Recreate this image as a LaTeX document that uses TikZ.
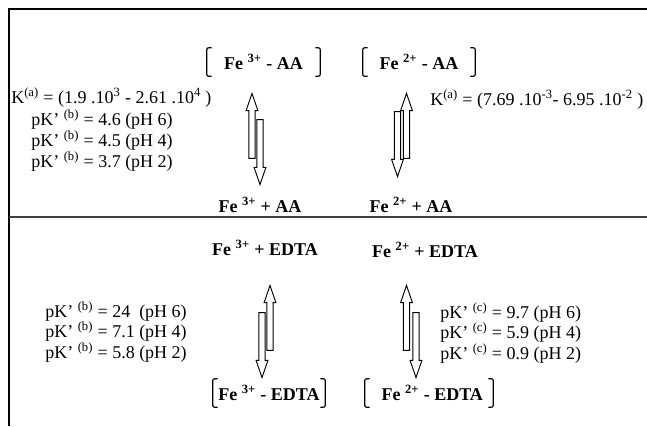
\documentclass[tikz,border=0pt]{standalone}
\usepackage{fontspec}
\setmainfont{Liberation Serif}
\usetikzlibrary{shapes.arrows}

\tikzset{
  species/.style={font=\fontsize{13.5}{16}\selectfont\bfseries, inner sep=0pt},
  complex/.style={species, minimum height=21pt},
  constant/.style={font=\fontsize{13.5}{14.25}\selectfont, align=left, inner sep=0pt, anchor=west},
  eqarrow/.style={single arrow, draw, line width=0.7pt, inner xsep=0pt, inner ysep=2pt,
    minimum height=48.75pt, minimum width=8.25pt, single arrow head extend=2.1pt,
    single arrow tip angle=38, single arrow head indent=0pt},
  bracket/.style={line width=0.9pt, rounded corners=1.5pt},
  frame/.style={line width=1.4pt},
  divider/.style={line width=1.1pt, black!75}
}

\begin{document}
\begin{tikzpicture}[x=0.75pt, y=-0.75pt]
  \useasboundingbox (0,0) rectangle (647,426);

  % frame
  \draw[frame] (9,426) -- (9,9) -- (647,9);
  \draw[divider] (9,217) -- (647,217);

  % Fe-AA
  \node[complex, minimum width=84.75pt] (c3AA) at (263.5,62) {Fe \textsuperscript{3+} - AA\hspace{12pt}};
  \node[complex, minimum width=84pt] (c2AA) at (419,62) {Fe \textsuperscript{2+} - AA};
  \node[species] (f3AA) at (260,205) {Fe \textsuperscript{3+} + AA};
  \node[species] (f2AA) at (411,205) {Fe \textsuperscript{2+} + AA};

  \node[eqarrow, rotate=90] (u3AA) at (252,130.5) {};
  \node[eqarrow, rotate=-90] (d3AA) at (260,147.5) {};
  \node[eqarrow, rotate=-90] (d2AA) at (397.5,139.5) {};
  \node[eqarrow, rotate=90] (u2AA) at (406.5,130.5) {};

  \node[constant] (kA) at (11,98) {K\textsuperscript{(a)} = (1.9 .10\textsuperscript{3} - 2.61 .10\textsuperscript{4} )};
  \node[constant] (pkA) at (31,140.5) {pK’ \textsuperscript{(b)} = 4.6 (pH 6)\\
    pK’ \textsuperscript{(b)} = 4.5 (pH 4)\\
    pK’ \textsuperscript{(b)} = 3.7 (pH 2)};
  \node[constant] (kB) at (430,100) {K\textsuperscript{(a)} = (7.69 .10\textsuperscript{-3}- 6.95 .10\textsuperscript{-2} )};

  % Fe-EDTA
  \node[species] (f3ED) at (265,248) {Fe \textsuperscript{3+} + EDTA};
  \node[species] (f2ED) at (425,250) {Fe \textsuperscript{2+} + EDTA};
  \node[complex, minimum width=84pt] (c3ED) at (269,393) {Fe \textsuperscript{3+} - EDTA};
  \node[complex, minimum width=96pt] (c2ED) at (429,393) {\hspace{5pt}Fe \textsuperscript{2+} - EDTA};

  \node[eqarrow, rotate=-90] (d3ED) at (262,340.5) {};
  \node[eqarrow, rotate=90] (u3ED) at (270,322.5) {};
  \node[eqarrow, rotate=90] (u2ED) at (406.5,322.5) {};
  \node[eqarrow, rotate=-90] (d2ED) at (416,340.5) {};

  \node[constant] (pkB) at (45,332) {pK’ \textsuperscript{(b)} = 24~ (pH 6)\\
    pK’ \textsuperscript{(b)} = 7.1 (pH 4)\\
    pK’ \textsuperscript{(b)} = 5.8 (pH 2)};
  \node[constant] (pkC) at (440,333) {pK’ \textsuperscript{(c)} = 9.7 (pH 6)\\
    pK’ \textsuperscript{(c)} = 5.9 (pH 4)\\
    pK’ \textsuperscript{(c)} = 0.9 (pH 2)};

  % brackets
  \foreach \n in {c3AA, c2AA, c3ED, c2ED} {
    \draw[bracket] ([xshift=3.75pt]\n.north west) -- (\n.north west) -- (\n.south west) -- ([xshift=3.75pt]\n.south west);
    \draw[bracket] ([xshift=-3.75pt]\n.north east) -- (\n.north east) -- (\n.south east) -- ([xshift=-3.75pt]\n.south east);
  }
\end{tikzpicture}
\end{document}
